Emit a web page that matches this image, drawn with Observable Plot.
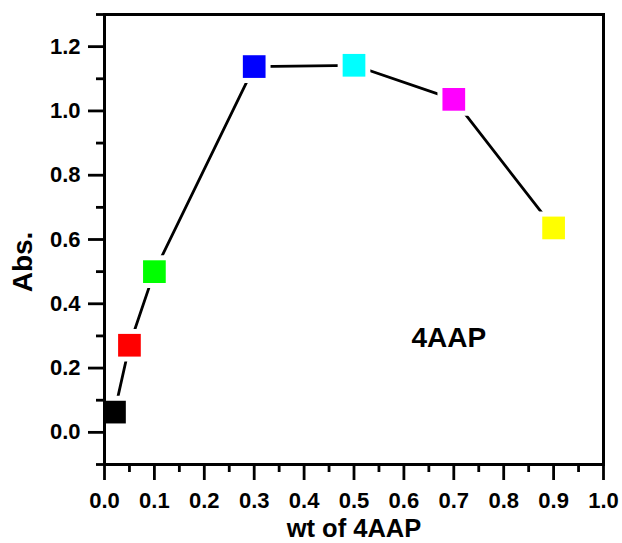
<!DOCTYPE html>
<html>
<head>
<meta charset="utf-8">
<script src="https://cdn.jsdelivr.net/npm/d3@7"></script>
<script src="https://cdn.jsdelivr.net/npm/@observablehq/plot@0.6"></script>
<style>
  html, body { margin: 0; padding: 0; background: #fff; }
</style>
</head>
<body>
<div id="chart"></div>
<script>
const wt = [0.02, 0.05, 0.1, 0.3, 0.5, 0.7, 0.9];
const absValues = [0.063, 0.271, 0.50, 1.138, 1.142, 1.036, 0.636];
const markerColors = ["#000000", "#ff0000", "#00ff00", "#0000ff", "#00ffff", "#ff00ff", "#ffff00"];
const xMajorTicks = [0, 0.1, 0.2, 0.3, 0.4, 0.5, 0.6, 0.7, 0.8, 0.9, 1.0];
const xMinorTicks = [0.05, 0.15, 0.25, 0.35, 0.45, 0.55, 0.65, 0.75, 0.85, 0.95];
const yMajorTicks = [0, 0.2, 0.4, 0.6, 0.8, 1.0, 1.2];
const yMinorTicks = [-0.1, 0.1, 0.3, 0.5, 0.7, 0.9, 1.1, 1.3];
const xLabel = "wt of 4AAP";
const yLabel = "Abs.";
const yLabelAt = 0.53;   // y-axis title is centred a little below the frame middle
const annotation = [{x: 0.69, y: 0.295, text: "4AAP"}];

const xDomain = [0, 1];
const yDomain = [-0.1, 1.3];
const data = wt.map((x, i) => ({x, y: absValues[i], color: markerColors[i]}));
const fmt = d3.format(".1f");
const side = 22.7;                 // square side in px
const rFill = side / Math.sqrt(Math.PI);
const rGap = (side + 10) / Math.sqrt(Math.PI);
const font = "'Liberation Sans', Arial, sans-serif";
const tw = 2.8;

const chart = Plot.plot({
  width: 622,
  height: 543,
  marginLeft: 104,
  marginRight: 19,
  marginTop: 14,
  marginBottom: 79,
  style: {fontFamily: font, fontWeight: "bold", color: "#000", background: "#fff"},
  x: {domain: xDomain, axis: null},
  y: {domain: yDomain, axis: null},
  color: {type: "identity"},
  marks: [
    Plot.line(data, {x: "x", y: "y", stroke: "#000", strokeWidth: 2.8}),
    Plot.dot(data, {x: "x", y: "y", symbol: "square", r: rGap, fill: "#fff", stroke: "none"}),
    // x ticks (below the bottom frame line)
    Plot.ruleX(xMajorTicks, {x: d => d, y1: yDomain[0], y2: yDomain[0], insetBottom: -16, stroke: "#000", strokeWidth: tw}),
    Plot.ruleX(xMinorTicks, {x: d => d, y1: yDomain[0], y2: yDomain[0], insetBottom: -8, stroke: "#000", strokeWidth: tw}),
    // y ticks (left of the left frame line)
    Plot.ruleY(yMajorTicks, {y: d => d, x1: xDomain[0], x2: xDomain[0], insetLeft: -16, stroke: "#000", strokeWidth: tw}),
    Plot.ruleY(yMinorTicks, {y: d => d, x1: xDomain[0], x2: xDomain[0], insetLeft: -8, stroke: "#000", strokeWidth: tw}),
    Plot.frame({stroke: "#000", strokeWidth: 3}),
    // tick labels
    Plot.text(xMajorTicks, {x: d => d, frameAnchor: "bottom", dy: 36, lineAnchor: "middle", textAnchor: "middle", text: d => fmt(d), fontSize: 22, fontWeight: "bold", fill: "#000"}),
    Plot.text(yMajorTicks, {y: d => d, frameAnchor: "left", dx: -24, textAnchor: "end", lineAnchor: "middle", text: d => fmt(d), fontSize: 22, fontWeight: "bold", fill: "#000"}),
    Plot.dot(data, {x: "x", y: "y", symbol: "square", r: rFill, fill: "color", stroke: "none"}),
    Plot.text(annotation, {x: "x", y: "y", text: "text", fontSize: 28, fontWeight: "bold", fill: "#000"}),
    Plot.text([xLabel], {frameAnchor: "bottom", dy: 64, lineAnchor: "middle", textAnchor: "middle", fontSize: 25.5, fontWeight: "bold", fill: "#000"}),
    Plot.text([yLabel], {y: () => yLabelAt, frameAnchor: "left", dx: -81, rotate: -90, textAnchor: "middle", lineAnchor: "middle", fontSize: 28, fontWeight: "bold", fill: "#000"})
  ]
});
document.getElementById("chart").appendChild(chart);
</script>
</body>
</html>
